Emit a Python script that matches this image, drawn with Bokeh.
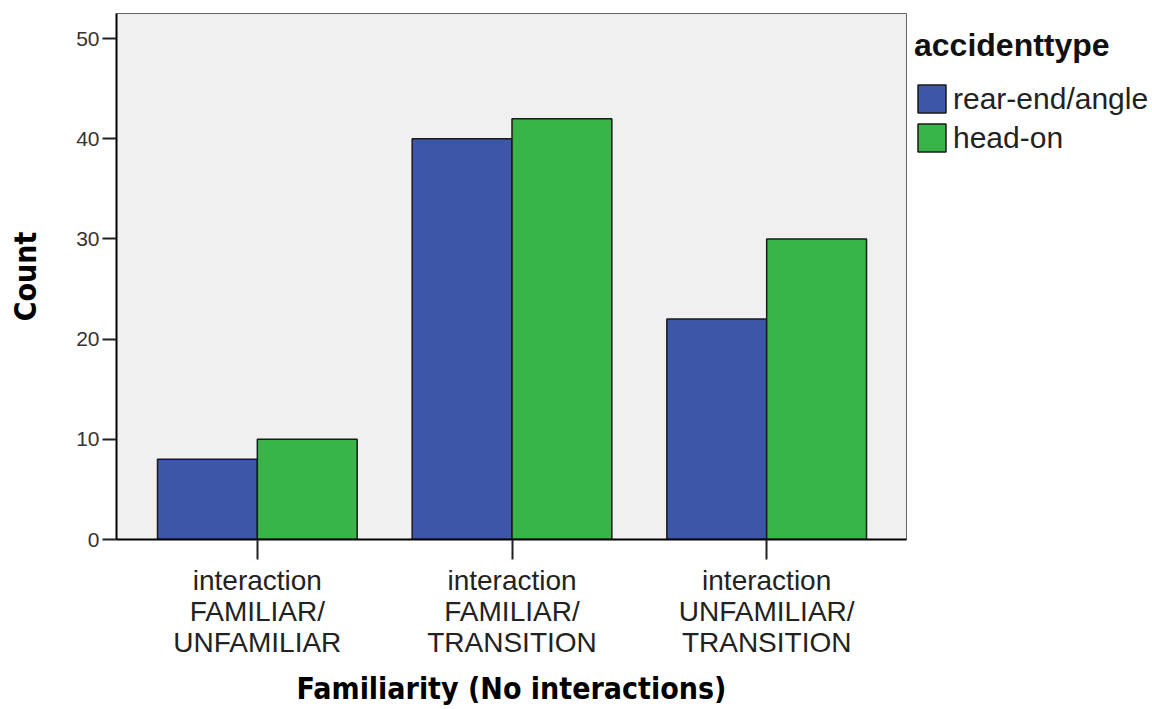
from bokeh.plotting import figure
from bokeh.models import FixedTicker, Legend, LegendItem
from bokeh.embed import file_html
from bokeh.resources import INLINE

# ---- data ----
categories = [
    "interaction\nFAMILIAR/\nUNFAMILIAR",
    "interaction\nFAMILIAR/\nTRANSITION",
    "interaction\nUNFAMILIAR/\nTRANSITION",
]
series_names = ["rear-end/angle", "head-on"]
rear_end_angle = [8, 40, 22]
head_on = [10, 42, 30]
y_ticks = [0, 10, 20, 30, 40, 50]
colors = ["#3E56A8", "#38B449"]

positions = list(range(1, len(categories) + 1))
bar_w = 0.392

p = figure(
    frame_width=790, frame_height=526,
    x_range=(0.447, 3.549), y_range=(0, 52.5),
    output_backend="svg", toolbar_location=None,
    min_border_left=116, min_border_top=13,
    min_border_right=236, min_border_bottom=152,
    background_fill_color="#F0F0F0",
    border_fill_color="white",
)
p.outline_line_color = "#666666"
p.outline_line_width = 1
p.xgrid.visible = False
p.ygrid.visible = False

r1 = p.vbar(x=[x - bar_w / 2 for x in positions], top=rear_end_angle, width=bar_w,
            fill_color=colors[0], line_color="#1a1a1a", line_width=1.5)
r2 = p.vbar(x=[x + bar_w / 2 for x in positions], top=head_on, width=bar_w,
            fill_color=colors[1], line_color="#1a1a1a", line_width=1.5)

# x axis
p.xaxis.ticker = FixedTicker(ticks=positions)
p.xaxis.major_label_overrides = {pos: lab for pos, lab in zip(positions, categories)}
p.xaxis.axis_label = "Familiarity (No interactions)"
p.xaxis.major_tick_out = 20
p.xaxis.major_tick_in = 0
p.xaxis.minor_tick_line_color = None
p.xaxis.major_label_standoff = 5
p.xaxis.major_label_text_font = "Liberation Sans"
p.xaxis.major_label_text_font_size = "28px"
p.xaxis.major_label_text_line_height = 1.0
p.xaxis.major_label_text_color = "#222222"
p.xaxis.axis_label_standoff = 10

# y axis
p.yaxis.ticker = FixedTicker(ticks=y_ticks)
p.yaxis.axis_label = "Count"
p.yaxis.major_tick_out = 14
p.yaxis.major_tick_in = 0
p.yaxis.minor_tick_line_color = None
p.yaxis.major_label_standoff = 3
p.yaxis.major_label_text_font = "Liberation Sans"
p.yaxis.major_label_text_font_size = "21px"
p.yaxis.major_label_text_color = "#333333"
p.yaxis.axis_label_standoff = 30

for ax in (p.xaxis, p.yaxis):
    ax.axis_line_color = "black"
    ax.axis_line_width = 2
    ax.major_tick_line_color = "#222222"
    ax.major_tick_line_width = 2
    ax.axis_label_text_font = "DejaVu Sans Condensed"
    ax.axis_label_text_font_style = "bold"
    ax.axis_label_text_font_size = "30px"
    ax.axis_label_text_color = "black"

legend = Legend(
    items=[LegendItem(label=series_names[0], renderers=[r1]),
           LegendItem(label=series_names[1], renderers=[r2])],
    title="accidenttype",
    location=(4, 380),
)
legend.title_text_font = "Liberation Sans"
legend.title_text_font_style = "bold"
legend.title_text_font_size = "32px"
legend.title_text_color = "#111111"
legend.title_standoff = 17
legend.label_text_font = "Liberation Sans"
legend.label_text_font_size = "30px"
legend.label_text_color = "#222222"
legend.glyph_width = 35
legend.glyph_height = 35
legend.label_standoff = 4
legend.spacing = 4
legend.padding = 4
legend.margin = 0
legend.border_line_alpha = 0
legend.background_fill_alpha = 0
p.add_layout(legend, "right")

open("out.html", "w").write(file_html(p, INLINE))
